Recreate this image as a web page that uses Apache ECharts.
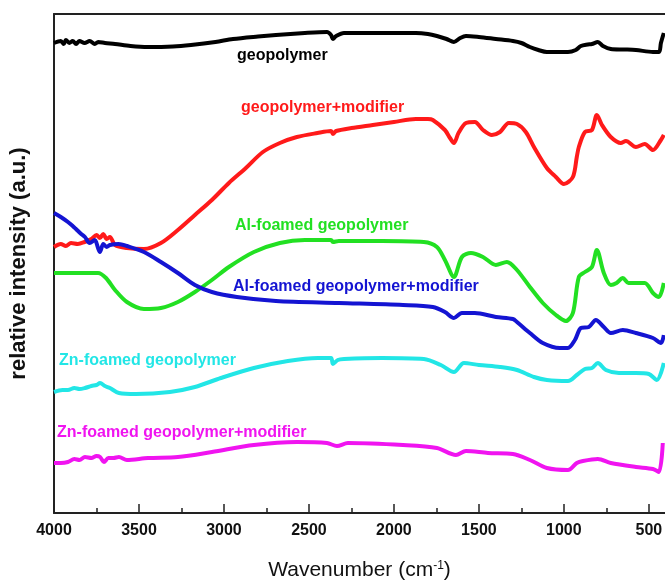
<!DOCTYPE html>
<html>
<head>
<meta charset="utf-8">
<script src="https://cdn.jsdelivr.net/npm/echarts@6/dist/echarts.min.js"></script>
<style>
html,body{margin:0;padding:0;background:#fff;}
#chart{width:665px;height:587px;}
</style>
</head>
<body>
<div id="chart"></div>
<script>
// wavenumber ticks (cm-1)
var xTicks = [4000, 3500, 3000, 2500, 2000, 1500, 1000, 500];
var xMinorTicks = [3750, 3250, 2750, 2250, 1750, 1250, 750];

// geopolymer
var geoWn  = [4000,3960,3943,3930,3910,3890,3870,3850,3820,3790,3760,3740,3700,3641,3550,3447,3300,3194,3050,2947,2800,2694,2524,2394,2370,2359,2340,2294,2071,1871,1800,1747,1690,1647,1610,1576,1500,1400,1300,1250,1200,1150,1100,976,930,900,860,835,800,770,724,650,576,476,440,429,412];
var geoVal = [470,472,469,473,470,472,469,472,470,472,469,471,470,469,467,466,466.5,468,471,474,476.5,478,480,481,478,474,477,480,480,480,479,477,474,471,475,477,476,474,472,470,466,463,461,461,463,467,468.5,469,471,467,464,463.5,463,461,461,470,480];

// geopolymer+modifier
var geoModWn  = [4000,3960,3930,3900,3860,3820,3780,3750,3730,3710,3690,3671,3641,3571,3471,3371,3271,3171,3071,2971,2871,2771,2671,2571,2450,2370,2359,2340,2250,2124,2000,1871,1800,1771,1700,1670,1647,1620,1576,1524,1476,1424,1376,1324,1276,1224,1176,1100,1047,1000,947,924,912,876,835,806,776,724,665,635,576,524,476,429,412];
var geoModVal = [266,269,267,270,269,271,274,278,275,279,274,276,268,265,264,270,283,298,313,330,345,361,370,376,380,382,379,382,385,388,391,394,394,393,383,375,370,380,390,391,383,378,381,390,389,381,366,345,336,329,336,356,366,381,383,398,388,376,370,372,366,369,363,373,378];

// Al-foamed geopolymer
var alWn  = [4000,3741,3694,3641,3571,3471,3371,3271,3171,3071,2971,2824,2671,2524,2370,2359,2324,2071,1824,1747,1700,1647,1600,1547,1476,1400,1335,1276,1200,1124,1047,988,947,912,876,835,806,765,724,690,653,620,600,524,476,441,412];
var alVal = [240,240,235,223,211,204,205,211,221,233,246,261,270,273,273,271,272,272,271,266,253,236,256,260,256,248,251,243,226,210,198,192,200,236,241,246,263,240,228,230,235,230,230,230,220,216,230];

// Al-foamed geopolymer+modifier
var alModWn  = [4000,3960,3918,3890,3871,3840,3818,3790,3760,3741,3730,3710,3690,3671,3620,3571,3471,3371,3271,3171,3071,2924,2694,2324,1947,1771,1700,1647,1600,1524,1400,1300,1276,1200,1124,1024,976,935,900,853,812,765,724,653,576,476,429,412];
var alModVal = [300,296,291,287,284,279,276,270,273,265,261,269,266,268,269,267,261,251,240,228,221,216,212,210,208,206,201,195,200,200,196,194,191,180,170,165,165,173,185,186,193,186,180,183,180,175,170,178];

// Zn-foamed geopolymer
var znWn  = [4000,3950,3918,3880,3850,3818,3780,3750,3729,3700,3671,3618,3518,3318,3171,3018,2824,2624,2447,2370,2359,2330,2294,2071,1824,1724,1647,1588,1500,1376,1276,1176,1100,976,924,876,835,800,753,676,576,500,453,412];
var znVal = [121,123,123,125,124,125,127,128,130,127,125,120,119,121,126,135,145,152,155,155,149,153,154,155,154,148,141,150,148,146,143,136,133,132,138,144,145,150,143,140,140,139,133,150];

// Zn-foamed geopolymer+modifier
var znModWn  = [4000,3960,3918,3880,3850,3818,3780,3750,3729,3706,3680,3650,3618,3571,3447,3271,3071,2824,2571,2394,2335,2271,1947,1747,1635,1576,1447,1300,1200,1100,976,924,888,800,724,576,476,441,418];
var znModVal = [50,50,51,54,53,56,55,57,56,51,55,55,56,53,55,56,61,68,71,70,67,70,68,65,58,62,60,59,53,45,43,50,52,54,50,46,44,41,70];

var names  = ['geopolymer', 'geopolymer+modifier', 'Al-foamed geopolymer', 'Al-foamed geopolymer+modifier', 'Zn-foamed geopolymer', 'Zn-foamed geopolymer+modifier'];
var colors = ['#000000', '#ff1a1a', '#22e022', '#1414d2', '#22e6e6', '#f014f0'];

function pairs(wn, val) {
    return wn.map(function (w, k) { return [w, val[k]]; });
}
var allData = [
    pairs(geoWn, geoVal),
    pairs(geoModWn, geoModVal),
    pairs(alWn, alVal),
    pairs(alModWn, alModVal),
    pairs(znWn, znVal),
    pairs(znModWn, znModVal)
];

// label positions (px): left, vertical centre
var labelPos = [[237, 56], [241, 108], [235, 226], [233, 287], [59, 361], [57, 433]];

var FONT = '"Liberation Sans", Arial, sans-serif';
var xMin = 405, xMax = 4000;

var chart = echarts.init(document.getElementById('chart'));
var series = [];
var texts = [];
for (var i = 0; i < names.length; i++) {
    series.push({
        name: names[i],
        type: 'line',
        data: allData[i],
        xAxisIndex: 0,
        showSymbol: false,
        smooth: 0.3,
        lineStyle: {color: colors[i], width: 4},
        itemStyle: {color: colors[i]}
    });
    texts.push({
        type: 'text',
        x: labelPos[i][0],
        y: labelPos[i][1],
        style: {
            text: names[i],
            fill: colors[i],
            font: 'bold 16px ' + FONT,
            textVerticalAlign: 'middle'
        }
    });
}

chart.setOption({
    animation: false,
    backgroundColor: '#fff',
    grid: {left: 54, right: 0, top: 14, bottom: 74, outerBoundsMode: 'none', containLabel: false},
    xAxis: [{
        // main axis: major ticks and labels
        type: 'value',
        inverse: true,
        min: xMin,
        max: xMax,
        position: 'bottom',
        name: 'Wavenumber (cm{sup|-1})',
        nameLocation: 'middle',
        nameGap: 47,
        nameTextStyle: {
            fontFamily: FONT,
            fontSize: 21,
            color: '#111',
            rich: {sup: {fontSize: 12, verticalAlign: 'top', padding: [0, 0, 8, 0], color: '#111'}}
        },
        axisLine: {lineStyle: {color: '#222', width: 2}},
        axisTick: {inside: true, length: 9, customValues: xTicks, lineStyle: {color: '#222', width: 1.5}},
        axisLabel: {
            margin: 10,
            color: '#111',
            fontWeight: 'bold',
            fontSize: 16,
            fontFamily: FONT,
            customValues: xTicks,
            formatter: function (v) { return String(v); }
        },
        splitLine: {show: false}
    }, {
        // minor ticks
        type: 'value',
        inverse: true,
        min: xMin,
        max: xMax,
        position: 'bottom',
        axisLine: {show: false},
        axisTick: {inside: true, length: 5, customValues: xMinorTicks, lineStyle: {color: '#222', width: 1.5}},
        axisLabel: {show: false},
        splitLine: {show: false}
    }, {
        // top frame
        type: 'value',
        inverse: true,
        min: xMin,
        max: xMax,
        position: 'top',
        axisLine: {show: true, lineStyle: {color: '#222', width: 2}},
        axisTick: {show: false},
        axisLabel: {show: false},
        splitLine: {show: false}
    }],
    yAxis: {
        type: 'value',
        min: 0,
        max: 499,
        name: 'relative intensity (a.u.)',
        nameLocation: 'middle',
        nameGap: 24,
        nameTextStyle: {
            fontFamily: FONT,
            fontSize: 22,
            fontWeight: 'bold',
            color: '#111'
        },
        axisLine: {show: true, lineStyle: {color: '#222', width: 2}},
        axisTick: {show: false},
        axisLabel: {show: false},
        splitLine: {show: false}
    },
    graphic: texts,
    series: series
});
</script>
</body>
</html>
